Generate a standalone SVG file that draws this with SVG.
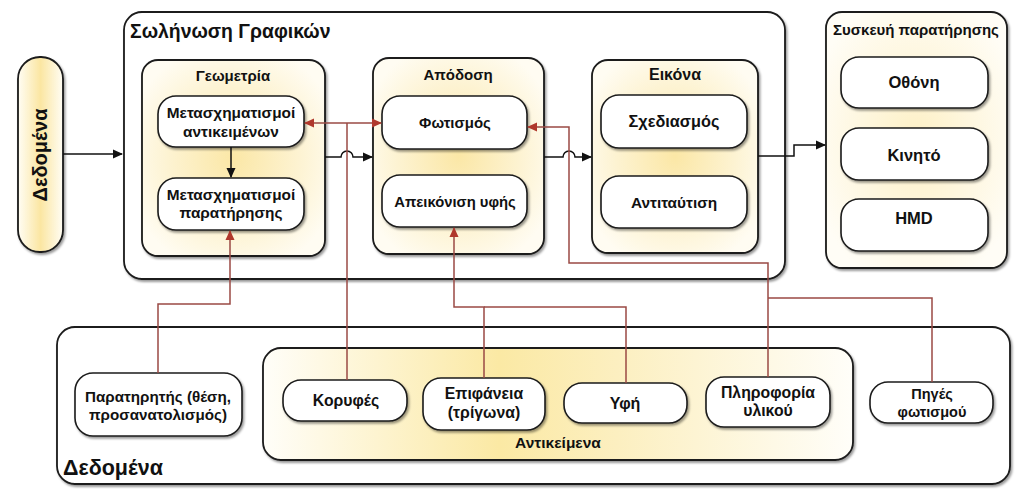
<svg xmlns="http://www.w3.org/2000/svg" width="1024" height="492" viewBox="0 0 1024 492">
<defs>
<style>
text{font-family:"Liberation Sans",Arial,sans-serif;font-weight:bold;fill:#111;}
.n{font-size:15.4px;text-anchor:middle;}
.d{font-size:16.5px;text-anchor:middle;}
.t{font-size:15px;text-anchor:middle;}
.box{stroke:#1a1a1a;stroke-width:1.8;}
.node{fill:#fff;stroke:#1a1a1a;stroke-width:1.6;filter:url(#sh);}
.bk{fill:none;stroke:#111;stroke-width:1.5;}
.rd{fill:none;stroke:#9a4a44;stroke-width:1.5;}
</style>
<filter id="sh" x="-10%" y="-10%" width="130%" height="140%">
<feDropShadow dx="1.5" dy="2" stdDeviation="1.3" flood-color="#000" flood-opacity="0.4"/>
</filter>
<radialGradient id="yg" cx="0.5" cy="0.5" r="0.6">
<stop offset="0" stop-color="#fbe7a6"/>
<stop offset="0.6" stop-color="#fdf3d2"/>
<stop offset="1" stop-color="#fffcf2"/>
</radialGradient>
<radialGradient id="yg2" cx="0.5" cy="0.5" r="0.6">
<stop offset="0" stop-color="#fdf0c6"/>
<stop offset="1" stop-color="#fffdf6"/>
</radialGradient>
<linearGradient id="lg" x1="0" y1="0" x2="1" y2="0">
<stop offset="0" stop-color="#fffef9"/>
<stop offset="0.4" stop-color="#fbe9a4"/>
<stop offset="0.6" stop-color="#fcefc0"/>
<stop offset="1" stop-color="#fffef9"/>
</linearGradient>
<linearGradient id="pg" x1="0" y1="0" x2="1" y2="0">
<stop offset="0" stop-color="#fffdf4"/>
<stop offset="0.5" stop-color="#fbe6a2"/>
<stop offset="1" stop-color="#fffdf4"/>
</linearGradient>
<marker id="ab" viewBox="0 0 10 10" refX="9" refY="5" markerWidth="10" markerHeight="10" markerUnits="userSpaceOnUse" orient="auto-start-reverse">
<path d="M0,0.5 L10,5 L0,9.5 z" fill="#111"/>
</marker>
<marker id="ar" viewBox="0 0 10 10" refX="9" refY="5" markerWidth="10" markerHeight="10" markerUnits="userSpaceOnUse" orient="auto-start-reverse">
<path d="M0,0.5 L10,5 L0,9.5 z" fill="#b0382c"/>
</marker>
</defs>
<rect width="1024" height="492" fill="#fff"/>

<g id="dedomena-bottom">
<rect class="box" x="57" y="327" width="953" height="157" rx="18" fill="#fff" filter="url(#sh)"/>
<text x="63" y="475" style="font-size:21.5px">Δεδομένα</text>
</g>
<g id="antikeimena">
<rect class="box" x="263" y="348" width="590" height="112" rx="18" fill="url(#lg)" filter="url(#sh)"/>
<text x="558" y="448" style="font-size:15.5px;text-anchor:middle">Αντικείμενα</text>
</g>

<g id="pipeline">
<rect class="box" x="124" y="12" width="661" height="267" rx="18" fill="#fff" filter="url(#sh)"/>
<text x="130" y="38" style="font-size:19.4px">Σωλήνωση Γραφικών</text>
</g>

<g id="dedomena-left">
<rect class="box" x="18" y="57" width="45" height="195" rx="22" fill="url(#pg)" filter="url(#sh)"/>
<text transform="translate(47,155) rotate(-90)" style="font-size:20px;text-anchor:middle">Δεδομένα</text>
</g>

<g id="geometria">
<rect class="box" x="142" y="60" width="183" height="196" rx="16" fill="url(#yg)" filter="url(#sh)"/>
<text class="t" x="233" y="81">Γεωμετρία</text>
</g>
<g id="apodosi">
<rect class="box" x="373" y="58" width="171" height="196" rx="16" fill="url(#yg)" filter="url(#sh)"/>
<text class="t" x="458" y="80">Απόδοση</text>
</g>
<g id="eikona">
<rect class="box" x="592" y="60" width="166" height="193" rx="16" fill="url(#yg)" filter="url(#sh)"/>
<text class="t" x="675" y="80" style="font-size:16px">Εικόνα</text>
</g>
<g id="syskevi">
<rect class="box" x="826" y="12" width="181" height="256" rx="16" fill="url(#yg2)" filter="url(#sh)"/>
<text x="916" y="35" style="font-size:15px;text-anchor:middle">Συσκευή παρατήρησης</text>
</g>

<g id="n-metasx-ant">
<rect class="node" x="158" y="96" width="146" height="51" rx="18"/>
<text class="n" x="231" y="118">Μετασχηματισμοί</text>
<text class="n" x="231" y="137">αντικειμένων</text>
</g>
<g id="n-metasx-par">
<rect class="node" x="158" y="178" width="146" height="52" rx="18"/>
<text class="n" x="231" y="200">Μετασχηματισμοί</text>
<text class="n" x="231" y="218">παρατήρησης</text>
</g>
<g id="n-fotismos">
<rect class="node" x="382" y="96" width="145" height="53" rx="18"/>
<text class="n" x="455" y="128" style="font-size:15px">Φωτισμός</text>
</g>
<g id="n-apeikonisi">
<rect class="node" x="382" y="175" width="145" height="52" rx="18"/>
<text class="n" x="455" y="207" style="font-size:14.8px">Απεικόνιση υφής</text>
</g>
<g id="n-sxediasmos">
<rect class="node" x="601" y="95" width="146" height="53" rx="18"/>
<text class="n" x="674" y="127" style="font-size:16.3px">Σχεδιασμός</text>
</g>
<g id="n-antitaftisi">
<rect class="node" x="601" y="176" width="146" height="52" rx="18"/>
<text class="n" x="674" y="208">Αντιταύτιση</text>
</g>
<g id="n-othoni">
<rect class="node" x="841" y="57" width="147" height="51" rx="18"/>
<text class="d" x="914" y="88">Οθόνη</text>
</g>
<g id="n-kinito">
<rect class="node" x="841" y="128" width="147" height="52" rx="18"/>
<text class="d" x="914" y="161">Κινητό</text>
</g>
<g id="n-hmd">
<rect class="node" x="841" y="199" width="147" height="52" rx="18"/>
<text class="d" x="914" y="224">HMD</text>
</g>
<g id="n-paratiritis">
<rect class="node" x="75" y="373" width="167" height="63" rx="18"/>
<text class="n" x="158" y="402" style="font-size:15.2px">Παρατηρητής (θέση,</text>
<text class="n" x="158" y="420" style="font-size:15.2px">προσανατολισμός)</text>
</g>
<g id="n-koryfes">
<rect class="node" x="283" y="380" width="124" height="41" rx="18"/>
<text class="n" x="346" y="406" style="font-size:15.8px">Κορυφές</text>
</g>
<g id="n-epifaneia">
<rect class="node" x="423" y="378" width="122" height="52" rx="18"/>
<text class="n" x="484" y="399" style="font-size:15.8px">Επιφάνεια</text>
<text class="n" x="484" y="418" style="font-size:15.8px">(τρίγωνα)</text>
</g>
<g id="n-yfi">
<rect class="node" x="564" y="383" width="123" height="40" rx="18"/>
<text class="n" x="625" y="409" style="font-size:16px">Υφή</text>
</g>
<g id="n-pliroforia">
<rect class="node" x="706" y="377" width="124" height="50" rx="18"/>
<text class="n" x="768" y="398" style="font-size:15.8px">Πληροφορία</text>
<text class="n" x="768" y="416" style="font-size:15.8px">υλικού</text>
</g>
<g id="n-piges">
<rect class="node" x="870" y="382" width="123" height="41" rx="18"/>
<text class="n" x="932" y="399" style="font-size:14.5px">Πηγές</text>
<text class="n" x="932" y="417" style="font-size:14.5px">φωτισμού</text>
</g>

<g id="connectors">
<path class="bk" d="M63,154 L122,154" marker-end="url(#ab)"/>
<path class="bk" d="M231,147 L231,177" marker-end="url(#ab)"/>
<path class="bk" d="M325,157 L341,157 A6,6 0 0 1 353,157 L372,157" marker-end="url(#ab)"/>
<path class="bk" d="M544,157 L563,157 A6,6 0 0 1 575,157 L591,157" marker-end="url(#ab)"/>
<path class="bk" d="M758,156 L794,156 L794,145 L825,145" marker-end="url(#ab)"/>
<path class="rd" d="M305,123 L381,123" marker-start="url(#ar)" marker-end="url(#ar)"/>
<path class="rd" d="M347,123 L347,380"/>
<path class="rd" d="M768,377 L768,263 L569,263 L569,127 L528,127" marker-end="url(#ar)"/>
<path class="rd" d="M932,382 L932,298 L768,298"/>
<path class="rd" d="M158,373 L158,304 L230,304 L230,231" marker-end="url(#ar)"/>
<path class="rd" d="M484,378 L484,307 L454,307 L454,228" marker-end="url(#ar)"/>
<path class="rd" d="M626,383 L626,307 L484,307"/>
</g>
</svg>
